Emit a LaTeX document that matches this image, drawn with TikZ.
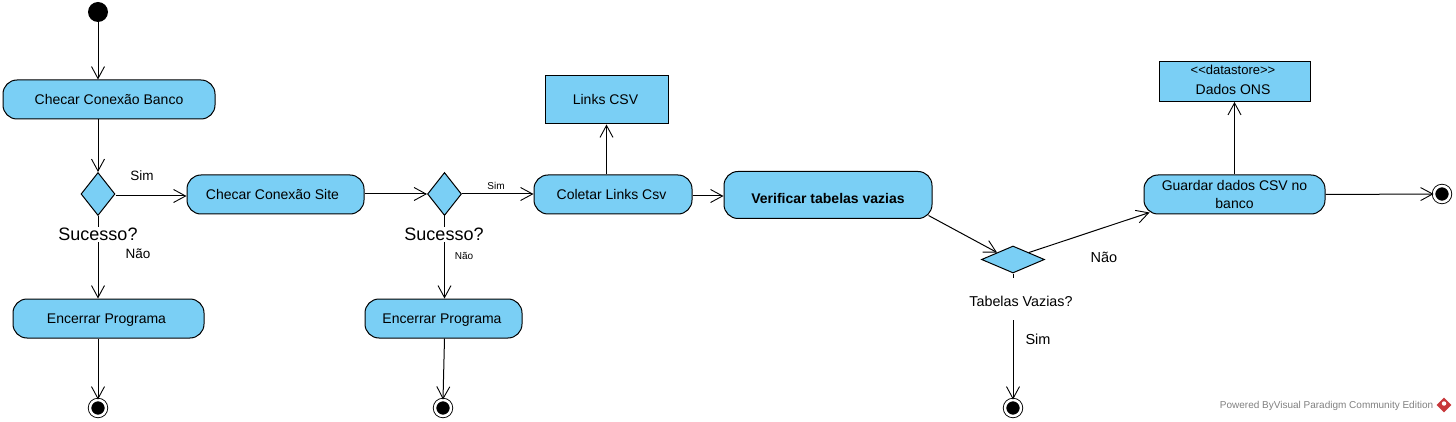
\documentclass[tikz,border=0pt]{standalone}
\usepackage{fontspec}
\setmainfont{Liberation Sans}
\usepackage{tikz}
\usetikzlibrary{calc}
\usetikzlibrary{arrows.meta}
\usetikzlibrary{shapes.geometric}
\definecolor{vpblue}{HTML}{7ACFF5}
\definecolor{vpgray}{HTML}{808080}
\definecolor{vpred}{HTML}{C8373A}
\begin{document}
\begin{tikzpicture}[x=1pt,y=-1pt,line width=1pt]
\tikzstyle{action}=[rectangle,align=center,draw,fill=vpblue,rounded corners=14pt,inner sep=2pt,font=\fontsize{14}{18}\selectfont]
\tikzstyle{oneline}=[text height=12.5pt,text depth=3pt]
\tikzstyle{store}=[rectangle,align=center,draw,fill=vpblue,inner sep=2pt,font=\fontsize{14}{18}\selectfont]
\tikzstyle{decision}=[diamond,draw,fill=vpblue,inner sep=0pt]
\tikzstyle{startnode}=[circle,fill=black,inner sep=0pt,minimum size=20pt]
\tikzstyle{endnode}=[circle,draw=black,fill=black,line width=0.9pt,double=white,double distance=2.5pt,inner sep=0pt,minimum size=16pt]
\tikzstyle{conn}=[-{Straight Barb[length=12pt,width=13pt,line width=0.9pt]}]
\tikzstyle{plain}=[fill=white,inner sep=1pt]
\useasboundingbox (0,0) rectangle (1456,422);
\node[startnode] at(98, 12) (start) {};
\node[action,oneline,minimum width=212pt,minimum height=39pt] at(109, 99.5) (banco) {Checar Conexão Banco};
\node[decision,minimum width=34pt,minimum height=43pt] at(98, 194) (d1) {};
\node[action,oneline,minimum width=177pt,minimum height=39pt] at(275.5, 194.5) (site) {Checar Conexão Site\kern6pt};
\node[action,oneline,minimum width=191pt,minimum height=39pt] at(108.5, 318.5) (enc1) {Encerrar Programa\kern4pt};
\node[endnode] at(98, 408) (end1) {};
\node[decision,minimum width=34pt,minimum height=43pt] at(444.5, 194) (d2) {};
\node[action,oneline,minimum width=157pt,minimum height=39pt] at(443.5, 318.5) (enc2) {Encerrar Programa\kern3pt};
\node[endnode] at(443, 408) (end2) {};
\node[action,oneline,minimum width=158pt,minimum height=39pt] at(613, 194.5) (coleta) {Coletar Links Csv\kern3pt};
\node[store,oneline,minimum width=123pt,minimum height=48pt] at(606.5, 100) (links) {Links CSV\kern2pt};
\node[action,text height=20pt,text depth=3pt,minimum width=208pt,minimum height=47pt] at(828, 195) (verif) {\textbf{Verificar tabelas vazias}};
\node[decision,minimum width=63pt,minimum height=27pt] at(1013, 259.5) (d3) {};
\node[endnode] at(1013, 408) (end3) {};
\node[action,minimum width=181pt,minimum height=39pt] at(1234.5, 194.5) (guarda) {Guardar dados CSV no\\banco};
\node[store,minimum width=151pt,minimum height=40pt] at(1234.5, 81.5) (dados) {};
\node[endnode] at(1442, 194) (end4) {};
\draw[conn] (start) -- (start |- banco.north);
\draw[conn] (d1 |- banco.south) -- (d1.north);
\draw[conn] (d1.east |- 0,196) -- (site.west |- 0,196);
\draw[conn] (d1.south) -- (d1 |- enc1.north);
\draw[conn] (d1 |- enc1.south) -- (end1.north);
\draw[conn] (site.east |- d2) -- (d2.west);
\draw[conn] (d2.east) -- (coleta.west |- d2);
\draw[conn] (d2.south) -- (d2.south |- enc2.north);
\draw[conn] (d2.south |- enc2.south) -- (end2.north);
\draw[conn] (links |- coleta.north) -- (links.south);
\draw[conn] (coleta.east |- 0,196) -- (verif.west |- 0,196);
\draw[conn] ($(verif.south east)+(-4,-3.5)$) -- (d3.north west);
\draw[conn] (d3.north east) -- ($(guarda.south west)+(6,-2)$);
\draw[conn] (d3.south) -- (end3.north);
\draw[conn] (dados |- guarda.north) -- (dados.south);
\draw[conn] (guarda.east) -- (end4.west);
\node[plain,font=\fontsize{18}{20}\selectfont] at(98, 234.5) (ok1) {Sucesso?};
\node[plain,font=\fontsize{18}{20}\selectfont] at(444, 234.5) (ok2) {Sucesso?};
\node[plain,font=\fontsize{14.3}{18}\selectfont,text height=18pt,text depth=3pt,minimum height=42pt] at(1021, 299) (vazia) {Tabelas Vazias?};
\node[font=\fontsize{13.5}{18}\selectfont] at(142, 176) (sim1) {Sim};
\node[font=\fontsize{13.5}{18}\selectfont] at(138, 254) (nao1) {Não};
\node[font=\fontsize{10}{12}\selectfont] at(496, 186) (sim2) {Sim};
\node[font=\fontsize{10}{12}\selectfont] at(464, 256) (nao2) {Não};
\node[font=\fontsize{14.5}{18}\selectfont] at(1104, 257) (nao3) {Não};
\node[font=\fontsize{14.5}{18}\selectfont] at(1038, 339) (sim3) {Sim};
\node[font=\fontsize{14}{18}\selectfont] at(1233, 89.5) (dadostxt) {Dados ONS};
\node[font=\fontsize{13}{14}\selectfont] at(1233, 70) (tipo) {<{}<datastore>{}>};
\node[text=vpgray,font=\fontsize{10}{12}\selectfont,anchor=east] at(1437, 405.5) (marca) {Powered ByVisual Paradigm Community Edition};
\node[diamond,fill=vpred,inner sep=0pt,minimum size=15pt] at(1444, 405) (logo) {};
\node[circle,fill=white,inner sep=0pt,minimum size=4.5pt] at(1444, 403.5) (logomark) {};
\end{tikzpicture}
\end{document}
